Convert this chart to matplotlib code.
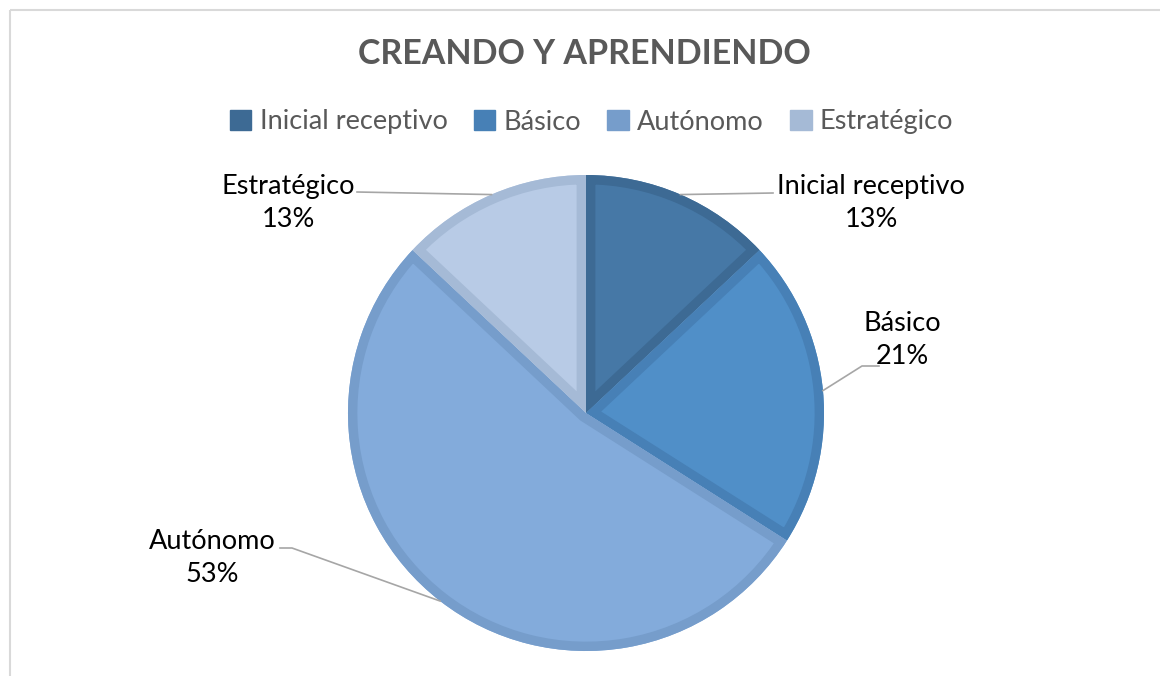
import numpy as np
import matplotlib
matplotlib.use("Agg")
import matplotlib.pyplot as plt
from matplotlib.patches import Patch, Wedge

categories = ["Inicial receptivo", "Básico", "Autónomo", "Estratégico"]
values = [13, 21, 53, 13]
title = "CREANDO Y APRENDIENDO"

fill_colors = ["#4678A6", "#508FC8", "#83ABDB", "#B8CBE6"]
edge_colors = ["#3D6A94", "#4780B6", "#769DCB", "#A5BAD6"]

W, H = 1160, 676
fig = plt.figure(figsize=(W / 100, H / 100), dpi=100)
ax = fig.add_axes([0, 0, 1, 1])

FONT = "Lato"

cx, cy, R = 586, H - 413, 238
wedges, _ = ax.pie(values, colors=fill_colors, startangle=90, counterclock=False,
                   center=(cx, cy), radius=R, frame=True,
                   wedgeprops=dict(linewidth=0))
ax.set_xlim(0, W)
ax.set_ylim(0, H)
ax.set_aspect("equal")
ax.axis("off")

# inner darker border on each wedge (clipped to wedge)
for w, ec in zip(wedges, edge_colors):
    ew = Wedge(w.center, w.r, w.theta1, w.theta2, fill=False, edgecolor=ec,
               linewidth=13.5, zorder=w.get_zorder() + 0.1)
    ax.add_patch(ew)
    ew.set_clip_path(w)

# frame
ax.plot([10, 10], [0, H - 10], color="#D9D9D9", lw=1.5, solid_capstyle="butt")
ax.plot([10, W], [H - 10, H - 10], color="#D9D9D9", lw=1.5, solid_capstyle="butt")

# title
ax.text(W / 2 + 4, H - 54, title, ha="center", va="center", fontsize=24.5,
        fontweight="bold", color="#595959", family=FONT)

# legend
handles = [Patch(facecolor=c, edgecolor=c) for c in edge_colors]
leg = ax.legend(handles, categories, loc="center", bbox_to_anchor=(0.510, 1 - 122 / H),
                ncol=4, frameon=False, handlelength=0.8, handleheight=0.8,
                handletextpad=0.3, columnspacing=0.97, prop={"family": FONT, "size": 19.5})
for t in leg.get_texts():
    t.set_color("#595959")

# data labels with leader lines
total = sum(values)
cum = np.cumsum([0] + values[:-1])
mids = [(c + v / 2) / total * 360 for c, v in zip(cum, values)]
label_pos = [(871, 203), (902, 340), (212, 558), (288, 203)]
leader_pts = [
    [(773, 193)],
    [(862, 366), (879, 366)],
    [(292, 548), (280, 548)],
    [(357, 192)],
]
for cat, v, m, (tx, ty), pts in zip(categories, values, mids, label_pos, leader_pts):
    ang = np.deg2rad(m)
    px = cx + R * np.sin(ang)
    py = cy + R * np.cos(ang)
    ax.text(tx, H - ty, f"{cat}\n{round(v / total * 100)}%", ha="center", va="center",
            fontsize=19.5, family=FONT, color="#000000", linespacing=1.4)
    xs = [px] + [p[0] for p in pts]
    ys = [py] + [H - p[1] for p in pts]
    ax.plot(xs, ys, color="#A6A6A6", lw=1.2, zorder=5)

fig.savefig("out.png", dpi=100, facecolor="white")
